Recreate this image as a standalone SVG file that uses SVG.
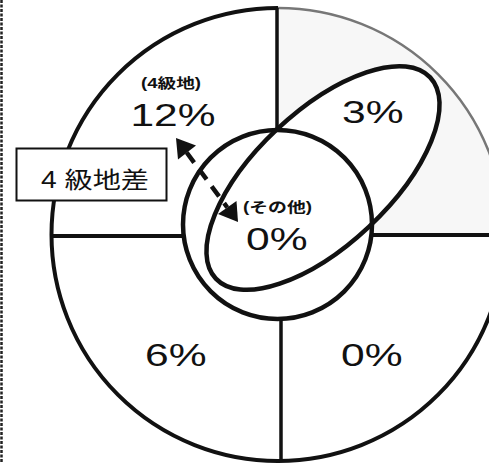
<svg xmlns="http://www.w3.org/2000/svg" width="489" height="463" viewBox="0 0 489 463">
<style>
  .ln { fill: none; stroke: #111; stroke-linecap: butt; }
  .t { font-family: "Liberation Sans", "Noto Sans CJK JP", sans-serif; fill: #111; }
  .pct { font-size: 32px; }
  .sm { font-size: 14px; font-weight: bold; }
  .head { fill: #111; stroke: none; }
</style>
<rect x="0" y="0" width="489" height="463" fill="#ffffff"/>
<line x1="1.5" y1="0" x2="1.5" y2="463" stroke="#222" stroke-width="2.5" stroke-dasharray="3 1.5"/>

<g id="background-shading">
  <path d="M277,8 A226.5,226.5 0 0 1 504.5,234.5 L372,235 A94.5,94.5 0 0 0 277.5,130 Z" fill="#f7f7f7"/>
  <ellipse cx="323" cy="178" rx="147" ry="67" transform="rotate(-43.2 323 178)" fill="#ffffff"/>
</g>

<g id="outer-ring">
  <path class="ln" d="M504.5,234.5 A226.5,226.5 0 1 1 278,8" stroke-width="4"/>
  <path d="M278,8 A226.5,226.5 0 0 1 504.5,234.5" fill="none" stroke="#777" stroke-width="2.5"/>
</g>

<g id="dividers">
  <line class="ln" x1="277" y1="8" x2="277" y2="131" stroke-width="3.5"/>
  <line class="ln" x1="281" y1="318" x2="281" y2="461" stroke-width="3.5"/>
  <line class="ln" x1="50" y1="236" x2="184" y2="236" stroke-width="4"/>
  <line class="ln" x1="371" y1="235" x2="489" y2="235" stroke-width="4"/>
</g>

<g id="inner-circle">
  <circle cx="277.5" cy="224.5" r="94.5" fill="#ffffff" stroke="none"/>
  <circle class="ln" cx="277.5" cy="224.5" r="94.5" stroke-width="4.5"/>
</g>

<g id="ellipse-region">
  <ellipse class="ln" cx="323" cy="178" rx="147" ry="67" transform="rotate(-43.2 323 178)" stroke-width="4.5"/>
</g>

<g id="label-grade4">
  <text class="t sm" x="141" y="87.5" font-size="13.5" textLength="60" lengthAdjust="spacingAndGlyphs">(4級地)</text>
  <text class="t pct" x="130.5" y="126" textLength="85" lengthAdjust="spacingAndGlyphs">12%</text>
</g>

<g id="label-upper-right">
  <text class="t pct" x="342" y="123" textLength="61.5" lengthAdjust="spacingAndGlyphs">3%</text>
</g>

<g id="label-other">
  <text class="t sm" x="243" y="212" textLength="69" lengthAdjust="spacingAndGlyphs">(その他)</text>
  <text class="t pct" x="246" y="250" textLength="61.5" lengthAdjust="spacingAndGlyphs">0%</text>
</g>

<g id="label-lower-left">
  <text class="t pct" x="145" y="366" textLength="61.5" lengthAdjust="spacingAndGlyphs">6%</text>
</g>

<g id="label-lower-right">
  <text class="t pct" x="341" y="366" textLength="61.5" lengthAdjust="spacingAndGlyphs">0%</text>
</g>

<g id="box-grade4-diff">
  <rect x="16.5" y="148.5" width="150" height="52" fill="#ffffff" stroke="#111" stroke-width="2"/>
  <text class="t" x="41" y="188" font-size="23" textLength="108" lengthAdjust="spacingAndGlyphs">4 級地差</text>
</g>

<g id="connectors">
  <line x1="186.7" y1="152.5" x2="227.3" y2="207.5" stroke="#111" stroke-width="4.5" stroke-dasharray="12.5 8.5"/>
  <polygon class="head" points="176,138 196,145.5 178,159.5"/>
  <polygon class="head" points="238,222 236.5,201 218,214"/>
</g>
</svg>
